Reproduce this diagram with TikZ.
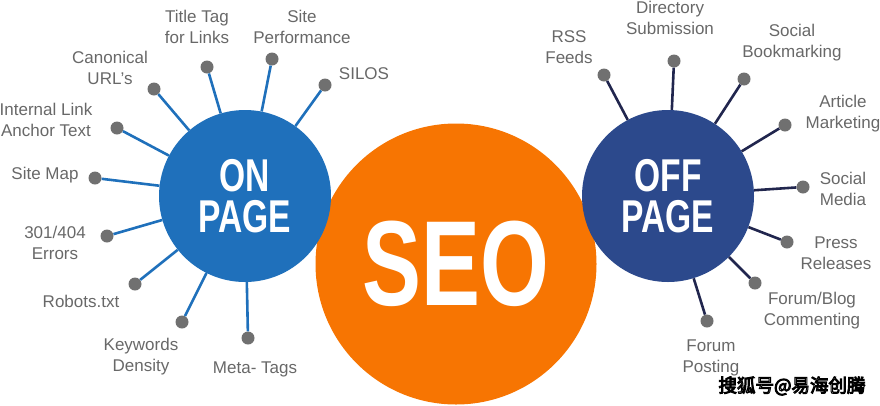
\documentclass[tikz,border=0pt]{standalone}
\usepackage{fontspec}
\setmainfont{Liberation Sans}
\newfontfamily\cjkfont{Noto Sans CJK SC}
\usepackage{tikz}

\definecolor{onblue}{RGB}{31,112,187}
\definecolor{offblue}{RGB}{44,73,140}
\definecolor{offline}{RGB}{33,38,78}
\definecolor{seoorange}{RGB}{247,117,2}
\definecolor{knobgray}{RGB}{112,112,112}
\definecolor{labgray}{RGB}{104,104,104}
\newcommand{\narrow}[1]{\scalebox{0.73}[1]{#1}}
\newcommand{\outlined}[1]{\special{pdf:literal direct 0 G 1 w 2 Tr}#1\special{pdf:literal direct 0 Tr}}

\begin{document}
\begin{tikzpicture}[x=1pt,y=-1pt,
    knob/.style={circle,fill=knobgray,inner sep=0pt,minimum size=13pt},
    lab/.style={text=labgray,align=center,inner sep=0pt,font=\fontsize{17}{21}\selectfont},
    ball/.style={circle,inner sep=0pt,text=white,align=center}]
    \useasboundingbox (0,0) rectangle (880,405);

    % the three circles
    \node[ball,fill=seoorange,minimum size=281pt,font=\fontsize{121}{121}\selectfont\bfseries] (seo) at (456,264) {\narrow{SEO}};
    \node[ball,fill=onblue,minimum size=172pt,font=\fontsize{46}{41}\selectfont\bfseries] (onpage) at (245,196) {\narrow{ON}\\\narrow{PAGE}};
    \node[ball,fill=offblue,minimum size=172pt,font=\fontsize{46}{41}\selectfont\bfseries] (offpage) at (668,196) {\narrow{OFF}\\\narrow{PAGE}};

    % on page
    \foreach \n/\x/\y in {title/207/67, perf/272/59, silos/325/85, canon/154/89, internal/117/128,
        sitemap/95/178, errors/107/236, robots/135/284, keywords/182/322, meta/248/338}
    {
        \node[knob] (on-\n) at (\x,\y) {};
        \draw[onblue,line width=2.6pt] (onpage) -- (on-\n);
    }
    % off page
    \foreach \n/\x/\y in {rss/604/75, dir/674/61, bookm/744/79, article/785/125, media/803/187,
        press/787/242, blog/755/283, posting/707/321}
    {
        \node[knob] (off-\n) at (\x,\y) {};
        \draw[offline,line width=2.6pt] (offpage) -- (off-\n);
    }

    \node[lab] (l-title) at (197,27) {Title Tag\\for Links};
    \node[lab] (l-perf) at (302,27) {Site\\Performance};
    \node[lab] (l-silos) at (364,74) {SILOS};
    \node[lab] (l-canon) at (110,68) {Canonical\\URL’s};
    \node[lab] (l-internal) at (46,120) {Internal Link\\Anchor Text};
    \node[lab] (l-sitemap) at (45,175) {Site Map};
    \node[lab] (l-errors) at (55,243) {301/404\\Errors};
    \node[lab] (l-robots) at (81,301) {Robots.txt};
    \node[lab] (l-keywords) at (141,357) {Keywords\\Density};
    \node[lab] (l-meta) at (255,369) {Meta- Tags};

    \node[lab] (l-rss) at (569,47) {RSS\\Feeds};
    \node[lab] (l-dir) at (670,18) {Directory\\Submission};
    \node[lab] (l-bookm) at (792,43) {Social\\Bookmarking};
    \node[lab] (l-article) at (843,114) {Article\\Marketing};
    \node[lab] (l-media) at (843,189) {Social\\Media};
    \node[lab] (l-press) at (836,253) {Press\\Releases};
    \node[lab] (l-blog) at (812,311) {Forum/Blog\\Commenting};
    \node[lab] (l-posting) at (711,358) {Forum\\Posting};

    % watermark
    \node[inner sep=0pt,text=white,font=\cjkfont\fontsize{18.5}{18.5}\selectfont] (wm) at (792,386) {\outlined{搜狐号@易海创腾}};
\end{tikzpicture}
\end{document}
